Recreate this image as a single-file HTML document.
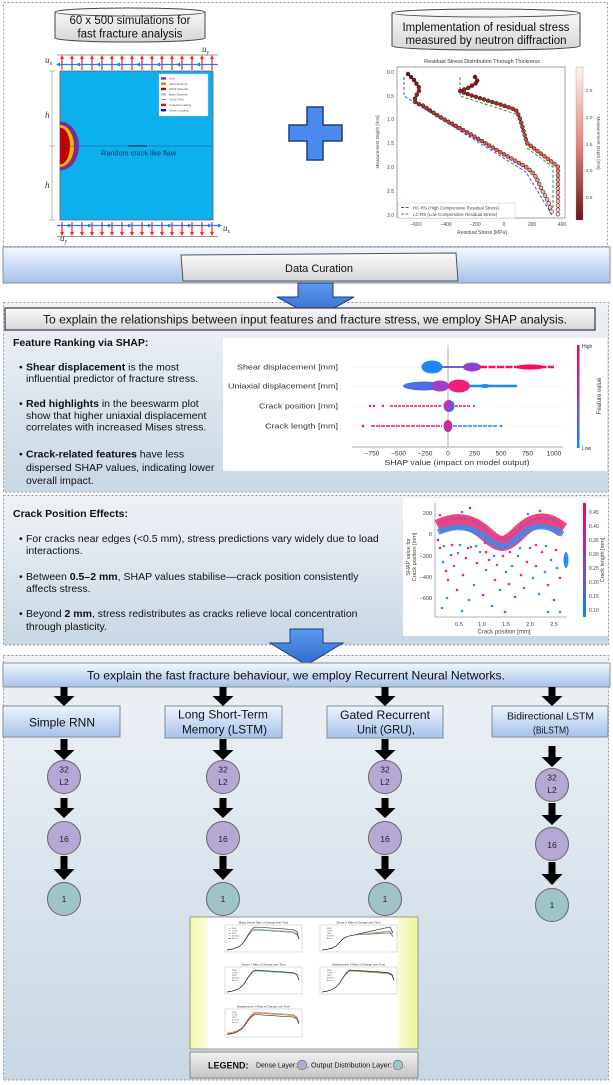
<!DOCTYPE html>
<html><head><meta charset="utf-8">
<style>
html,body{margin:0;padding:0;background:#fff;width:613px;height:1085px;overflow:hidden;}
svg{display:block;font-family:"Liberation Sans",Arial,sans-serif;}
</style></head><body>
<svg width="613" height="1085" viewBox="0 0 613 1085" xmlns="http://www.w3.org/2000/svg">
<defs>
 <linearGradient id="secbg" x1="0" y1="0" x2="0" y2="1"><stop offset="0" stop-color="#eef2f6"/><stop offset="1" stop-color="#c9d7e4"/></linearGradient>
 <linearGradient id="band" x1="0" y1="0" x2="0" y2="1"><stop offset="0" stop-color="#f4f8fd"/><stop offset="1" stop-color="#a5c2ec"/></linearGradient>
 <linearGradient id="gray" x1="0" y1="0" x2="0" y2="1"><stop offset="0" stop-color="#fbfbfb"/><stop offset="1" stop-color="#d6d6d6"/></linearGradient>
 <linearGradient id="gray2" x1="0" y1="0" x2="0" y2="1"><stop offset="0" stop-color="#f2f2f2"/><stop offset="1" stop-color="#c4c4c4"/></linearGradient>
 <linearGradient id="btn" x1="0" y1="0" x2="0" y2="1"><stop offset="0" stop-color="#eef4fc"/><stop offset="1" stop-color="#a6c2ea"/></linearGradient>
 <linearGradient id="barr" x1="0" y1="0" x2="0" y2="1"><stop offset="0" stop-color="#5c98ec"/><stop offset="1" stop-color="#2e6ccc"/></linearGradient>
 <linearGradient id="shapcb" x1="0" y1="0" x2="0" y2="1"><stop offset="0" stop-color="#ff0052"/><stop offset="0.5" stop-color="#8a3ed8"/><stop offset="1" stop-color="#008bfb"/></linearGradient>
 <linearGradient id="rscb" x1="0" y1="0" x2="0" y2="1"><stop offset="0" stop-color="#fcf4f2"/><stop offset="0.5" stop-color="#e7877a"/><stop offset="1" stop-color="#6d1414"/></linearGradient>
 <linearGradient id="dots" gradientUnits="userSpaceOnUse" x1="0" y1="72" x2="0" y2="215"><stop offset="0" stop-color="#701212"/><stop offset="0.55" stop-color="#d46254"/><stop offset="1" stop-color="#f5dcd5"/></linearGradient>
 <linearGradient id="yel" x1="0" y1="0" x2="1" y2="0"><stop offset="0" stop-color="#eff5a8"/><stop offset="0.078" stop-color="#fafce4"/><stop offset="0.08" stop-color="#ffffff"/><stop offset="0.91" stop-color="#ffffff"/><stop offset="0.915" stop-color="#f8fbd6"/><stop offset="1" stop-color="#eef598"/></linearGradient>
 <clipPath id="semi"><rect x="60" y="100" width="40" height="100"/></clipPath>
</defs>

<!-- ============ SECTION 1 ============ -->
<rect x="3.5" y="2.5" width="604" height="244" fill="#fff" stroke="#8c99a6" stroke-width="1" stroke-dasharray="2 2"/>

<!-- cylinder 1 -->
<path d="M55,12 A75,4 0 0 1 205,12 L205,38 A75,4 0 0 1 55,38 Z" fill="url(#gray)" stroke="#444" stroke-width="1"/>
<path d="M55,12 A75,4 0 0 0 205,12" fill="none" stroke="#444" stroke-width="0.8"/>
<text x="130" y="24" font-size="11.5" text-anchor="middle" fill="#111" textLength="121" lengthAdjust="spacingAndGlyphs">60 x 500 simulations for</text>
<text x="130" y="37.5" font-size="11.5" text-anchor="middle" fill="#111" textLength="105" lengthAdjust="spacingAndGlyphs">fast fracture analysis</text>

<!-- cylinder 2 -->
<path d="M392,13 A94,4 0 0 1 580,13 L580,46 A94,4 0 0 1 392,46 Z" fill="url(#gray)" stroke="#444" stroke-width="1"/>
<path d="M392,13 A94,4 0 0 0 580,13" fill="none" stroke="#444" stroke-width="0.8"/>
<text x="486" y="30.8" font-size="11.5" text-anchor="middle" fill="#111" textLength="167" lengthAdjust="spacingAndGlyphs">Implementation of residual stress</text>
<text x="486" y="44" font-size="11.5" text-anchor="middle" fill="#111" textLength="161" lengthAdjust="spacingAndGlyphs">measured by neutron diffraction</text>

<!-- simulation image -->
<line x1="57" y1="55" x2="218" y2="55" stroke="#999" stroke-width="1"/>
<line x1="57" y1="236.5" x2="218" y2="236.5" stroke="#999" stroke-width="1"/>
<g stroke="#ff2020" stroke-width="1.2">
 <line x1="62" y1="70" x2="62" y2="58"/><line x1="72" y1="70" x2="72" y2="58"/><line x1="82" y1="70" x2="82" y2="58"/><line x1="92" y1="70" x2="92" y2="58"/><line x1="102" y1="70" x2="102" y2="58"/><line x1="112" y1="70" x2="112" y2="58"/><line x1="122" y1="70" x2="122" y2="58"/><line x1="132" y1="70" x2="132" y2="58"/><line x1="142" y1="70" x2="142" y2="58"/><line x1="152" y1="70" x2="152" y2="58"/><line x1="162" y1="70" x2="162" y2="58"/><line x1="172" y1="70" x2="172" y2="58"/><line x1="182" y1="70" x2="182" y2="58"/><line x1="192" y1="70" x2="192" y2="58"/><line x1="202" y1="70" x2="202" y2="58"/><line x1="212" y1="70" x2="212" y2="58"/>
 <line x1="62" y1="222" x2="62" y2="233"/><line x1="72" y1="222" x2="72" y2="233"/><line x1="82" y1="222" x2="82" y2="233"/><line x1="92" y1="222" x2="92" y2="233"/><line x1="102" y1="222" x2="102" y2="233"/><line x1="112" y1="222" x2="112" y2="233"/><line x1="122" y1="222" x2="122" y2="233"/><line x1="132" y1="222" x2="132" y2="233"/><line x1="142" y1="222" x2="142" y2="233"/><line x1="152" y1="222" x2="152" y2="233"/><line x1="162" y1="222" x2="162" y2="233"/><line x1="172" y1="222" x2="172" y2="233"/><line x1="182" y1="222" x2="182" y2="233"/><line x1="192" y1="222" x2="192" y2="233"/><line x1="202" y1="222" x2="202" y2="233"/><line x1="212" y1="222" x2="212" y2="233"/>
</g>
<g fill="#ff2020">
 <path d="M60,59 h4 l-2,-4 z M70,59 h4 l-2,-4 z M80,59 h4 l-2,-4 z M90,59 h4 l-2,-4 z M100,59 h4 l-2,-4 z M110,59 h4 l-2,-4 z M120,59 h4 l-2,-4 z M130,59 h4 l-2,-4 z M140,59 h4 l-2,-4 z M150,59 h4 l-2,-4 z M160,59 h4 l-2,-4 z M170,59 h4 l-2,-4 z M180,59 h4 l-2,-4 z M190,59 h4 l-2,-4 z M200,59 h4 l-2,-4 z M210,59 h4 l-2,-4 z"/>
 <path d="M60,232 h4 l-2,4 z M70,232 h4 l-2,4 z M80,232 h4 l-2,4 z M90,232 h4 l-2,4 z M100,232 h4 l-2,4 z M110,232 h4 l-2,4 z M120,232 h4 l-2,4 z M130,232 h4 l-2,4 z M140,232 h4 l-2,4 z M150,232 h4 l-2,4 z M160,232 h4 l-2,4 z M170,232 h4 l-2,4 z M180,232 h4 l-2,4 z M190,232 h4 l-2,4 z M200,232 h4 l-2,4 z M210,232 h4 l-2,4 z"/>
</g>
<line x1="57" y1="64.5" x2="218" y2="64.5" stroke="#2a7ad8" stroke-width="1.2"/>
<line x1="57" y1="225.5" x2="220" y2="225.5" stroke="#2a7ad8" stroke-width="1.2"/>
<g fill="#2a7ad8">
 <path d="M56,64.5 l4,-2 v4 z M76,64.5 l4,-2 v4 z M96,64.5 l4,-2 v4 z M116,64.5 l4,-2 v4 z M136,64.5 l4,-2 v4 z M156,64.5 l4,-2 v4 z M176,64.5 l4,-2 v4 z M196,64.5 l4,-2 v4 z"/>
 <path d="M72,225.5 l-4,-2 v4 z M92,225.5 l-4,-2 v4 z M112,225.5 l-4,-2 v4 z M132,225.5 l-4,-2 v4 z M152,225.5 l-4,-2 v4 z M172,225.5 l-4,-2 v4 z M192,225.5 l-4,-2 v4 z M212,225.5 l-4,-2 v4 z M222,225.5 l-4,-2 v4 z"/>
</g>
<rect x="60" y="71" width="153" height="149" fill="#0cb0ec" stroke="#666" stroke-width="0.8"/>
<g clip-path="url(#semi)">
 <ellipse cx="60" cy="146" rx="19" ry="24.5" fill="#7b2d90"/>
 <ellipse cx="60" cy="146" rx="14" ry="21" fill="#f5b400"/>
 <ellipse cx="60" cy="146" rx="10" ry="18.5" fill="#c00000"/>
</g>
<line x1="60" y1="146" x2="213" y2="146" stroke="#1a5a80" stroke-width="0.5"/>
<line x1="128" y1="146" x2="147" y2="146" stroke="#16344f" stroke-width="1.3"/>
<text x="101" y="155.5" font-size="7" fill="#123a6a" textLength="75" lengthAdjust="spacingAndGlyphs">Random crack like flaw</text>
<!-- inner legend -->
<rect x="159" y="74" width="49" height="42" fill="#fff" stroke="#ccc" stroke-width="0.4"/>
<g font-size="3" fill="#555">
 <rect x="161" y="77.2" width="5" height="2.4" fill="#7b2d90"/><text x="169" y="79.5">HAZ</text>
 <rect x="161" y="82.5" width="5" height="2.4" fill="#e07b00"/><text x="169" y="84.8">Weld Material</text>
 <rect x="161" y="87.8" width="5" height="2.4" fill="#c00000"/><text x="169" y="90.1">HFMI Material</text>
 <rect x="161" y="93.1" width="5" height="2.4" fill="#9ec6e6"/><text x="169" y="95.4">Base Material</text>
 <rect x="161" y="99" width="5" height="0.7" fill="#666"/><text x="169" y="100.7">Crack Path</text>
 <rect x="161" y="103.7" width="5" height="2.4" fill="#ff0000"/><text x="169" y="106">Uniaxial Loading</text>
 <rect x="161" y="109" width="5" height="2.4" fill="#0000ff"/><text x="169" y="111.3">Shear Loading</text>
</g>
<!-- dimension -->
<line x1="52" y1="71" x2="52" y2="220" stroke="#888" stroke-width="0.6"/>
<g stroke="#888" stroke-width="0.6"><line x1="49" y1="71" x2="55" y2="71"/><line x1="49" y1="146" x2="55" y2="146"/><line x1="49" y1="220" x2="55" y2="220"/></g>
<g font-family="Liberation Serif, serif" font-style="italic" fill="#333">
 <text x="45" y="118" font-size="9">h</text>
 <text x="45" y="188" font-size="9">h</text>
 <text x="202" y="52" font-size="9">u<tspan font-size="6" dy="2">y</tspan></text>
 <text x="45" y="63" font-size="9">u<tspan font-size="6" dy="2">x</tspan></text>
 <text x="223" y="231" font-size="9">u<tspan font-size="6" dy="2">x</tspan></text>
 <text x="60" y="241" font-size="9">u<tspan font-size="6" dy="2">y</tspan></text>
</g>

<!-- plus -->
<path d="M307,107 H323 V125 H342 V141 H323 V160 H307 V141 H289 V125 H307 Z" fill="#4a8af0" stroke="#1a3f80" stroke-width="1.5"/>

<!-- residual stress chart -->
<text x="482" y="63" font-size="5.5" text-anchor="middle" fill="#333">Residual Stress Distribution Through Thickness</text>
<rect x="397" y="67" width="168" height="151" fill="#fff" stroke="#666" stroke-width="0.6"/>
<g font-size="5" fill="#444" text-anchor="end">
 <text x="394" y="74">0.0</text><text x="394" y="98">0.5</text><text x="394" y="121">1.0</text><text x="394" y="145">1.5</text><text x="394" y="169">2.0</text><text x="394" y="193">2.5</text><text x="394" y="217">3.0</text>
</g>
<g font-size="5" fill="#444" text-anchor="middle">
 <text x="416" y="226">−600</text><text x="446" y="226">−400</text><text x="475" y="226">−200</text><text x="504" y="226">0</text><text x="532" y="226">200</text><text x="562" y="226">400</text>
 <text x="482" y="234">Residual Stress [MPa]</text>
</g>
<text transform="translate(379 142) rotate(-90)" font-size="4.6" fill="#444" text-anchor="middle">Measurement Depth [mm]</text>
<polyline points="404,77 404,96 526,172 552,215" fill="none" stroke="#3a4cf0" stroke-width="1" stroke-dasharray="3 2"/>
<polyline points="460,77 460,96 519,115 527,148 553,167 553,215" fill="none" stroke="#2aa02a" stroke-width="1" stroke-dasharray="3 2"/>
<g fill="none" stroke-linecap="round" stroke-dasharray="0 4.3">
 <polyline points="408,74 414,80 420,89 416,96 414,101 418,104 422,105 440,117 470,134 500,152 526,167 532,172 536,177 542,190 548,201 552,213" stroke="#4a0c0c" stroke-width="4.4"/>
 <polyline points="408,74 414,80 420,89 416,96 414,101 418,104 422,105 440,117 470,134 500,152 526,167 532,172 536,177 542,190 548,201 552,213" stroke="url(#dots)" stroke-width="3.4"/>
 <polyline points="475,77 478,82 468,88 460,91 470,95 489,101 505,106 516,110 519,116 521,122 527,143 540,153 552,162 558,167 558,215" stroke="#4a0c0c" stroke-width="4.4"/>
 <polyline points="475,77 478,82 468,88 460,91 470,95 489,101 505,106 516,110 519,116 521,122 527,143 540,153 552,162 558,167 558,215" stroke="url(#dots)" stroke-width="3.4"/>
</g>
<rect x="398" y="203" width="117" height="15" fill="#fff" stroke="#ccc" stroke-width="0.5"/>
<line x1="401" y1="207.5" x2="410" y2="207.5" stroke="#3a4cf0" stroke-width="1" stroke-dasharray="3 1.5"/>
<line x1="401" y1="214" x2="410" y2="214" stroke="#2aa02a" stroke-width="1" stroke-dasharray="3 1.5"/>
<text x="413" y="209.3" font-size="4.4" fill="#444">HC-RS (High Compressive Residual Stress)</text>
<text x="413" y="215.8" font-size="4.4" fill="#444">LC-RS (Low Compressive Residual Stress)</text>
<rect x="576" y="67" width="7" height="153" fill="url(#rscb)" stroke="#888" stroke-width="0.3"/>
<g font-size="4.6" fill="#444"><text x="586" y="92">2.5</text><text x="586" y="119">2.0</text><text x="586" y="146">1.5</text><text x="586" y="172">1.0</text><text x="586" y="199">0.5</text></g>
<text transform="translate(597 143) rotate(90)" font-size="4.6" fill="#444" text-anchor="middle">Measurement Depth [mm]</text>

<!-- ============ DATA CURATION ============ -->
<rect x="3" y="247" width="607" height="36" fill="url(#band)" stroke="#8a9099" stroke-width="1"/>
<path d="M181,255 L456,253 L458,281 L183,281 Z" fill="url(#gray)" stroke="#555" stroke-width="1"/>
<text x="319" y="272" font-size="11" text-anchor="middle" fill="#111" textLength="68" lengthAdjust="spacingAndGlyphs">Data Curation</text>

<!-- ============ SHAP SECTION ============ -->
<rect x="3.5" y="302.5" width="605" height="189.5" fill="url(#secbg)" stroke="#8c99a6" stroke-width="1" stroke-dasharray="2 2"/>
<polygon points="298,283 333,283 333,297 354,297 315.5,318 277,297 298,297" fill="url(#barr)" stroke="#1a3f80" stroke-width="1"/>
<rect x="5" y="308" width="590" height="22" fill="url(#gray)" stroke="#444" stroke-width="1.3"/>
<text x="305" y="323.3" font-size="12.2" text-anchor="middle" fill="#111" textLength="524" lengthAdjust="spacingAndGlyphs">To explain the relationships between input features and fracture stress, we employ SHAP analysis.</text>

<g font-size="10.5" fill="#111">
 <text x="13" y="346" font-weight="bold">Feature Ranking via SHAP:</text>
 <text x="19" y="370.5">•</text><text x="26" y="370.5"><tspan font-weight="bold">Shear displacement</tspan> is the most</text>
 <text x="26" y="382">influential predictor of fracture stress.</text>
 <text x="19" y="407">•</text><text x="26" y="407"><tspan font-weight="bold">Red highlights</tspan> in the beeswarm plot</text>
 <text x="26" y="419">show that higher uniaxial displacement</text>
 <text x="26" y="430.5">correlates with increased Mises stress.</text>
 <text x="19" y="457.5">•</text><text x="26" y="457.5"><tspan font-weight="bold">Crack-related features</tspan> have less</text>
 <text x="26" y="471">dispersed SHAP values, indicating lower</text>
 <text x="26" y="484">overall impact.</text>
</g>

<!-- beeswarm -->
<rect x="223" y="338" width="384" height="133" fill="#fff"/>
<g stroke="#eee" stroke-width="0.5"><line x1="352" y1="367" x2="563" y2="367"/><line x1="352" y1="386" x2="563" y2="386"/><line x1="352" y1="406" x2="563" y2="406"/><line x1="352" y1="426" x2="563" y2="426"/></g>
<line x1="448" y1="345" x2="448" y2="447" stroke="#999" stroke-width="0.8"/>
<g font-size="7.4" fill="#333" text-anchor="end">
 <text x="338" y="369.5" textLength="101" lengthAdjust="spacingAndGlyphs">Shear displacement [mm]</text>
 <text x="338" y="388.5" textLength="110" lengthAdjust="spacingAndGlyphs">Uniaxial displacement [mm]</text>
 <text x="338" y="408.5" textLength="79" lengthAdjust="spacingAndGlyphs">Crack position [mm]</text>
 <text x="338" y="428.5" textLength="73" lengthAdjust="spacingAndGlyphs">Crack length [mm]</text>
</g>
<!-- row1 -->
<line x1="442" y1="367" x2="464" y2="367" stroke="#7a5ae0" stroke-width="2"/>
<ellipse cx="432" cy="367" rx="10.5" ry="6.5" fill="#1e88f5"/>
<ellipse cx="472" cy="367" rx="9" ry="4.5" fill="#8c3fd0"/>
<line x1="480" y1="367" x2="554" y2="367" stroke="#ff1060" stroke-width="2.4" stroke-dasharray="7 1.5"/>
<ellipse cx="530" cy="367" rx="14" ry="2.6" fill="#ff0a55"/>
<!-- row2 -->
<ellipse cx="424" cy="386" rx="21" ry="4.5" fill="#4a70ea"/>
<ellipse cx="440" cy="386" rx="9" ry="5.5" fill="#a23fc8"/>
<ellipse cx="459" cy="386" rx="11" ry="6.5" fill="#f0207a"/>
<line x1="469" y1="386" x2="517" y2="386" stroke="#1e88f5" stroke-width="2.4"/>
<ellipse cx="485" cy="386" rx="5" ry="2" fill="#1e88f5"/>
<!-- row3 -->
<g fill="#ff1060"><circle cx="370" cy="406" r="1.2"/><circle cx="374" cy="406" r="1.2"/><circle cx="383" cy="406" r="1.2"/></g>
<line x1="390" y1="406" x2="441" y2="406" stroke="#ff1060" stroke-width="1.6" stroke-dasharray="3 1"/>
<ellipse cx="449" cy="406" rx="5.5" ry="6" fill="#5a5af0"/>
<ellipse cx="447" cy="405" rx="3" ry="4" fill="#e02890"/>
<line x1="455" y1="406" x2="470" y2="406" stroke="#ff1060" stroke-width="1.6" stroke-dasharray="3 1"/>
<circle cx="474" cy="406" r="1.2" fill="#1e88f5"/>
<!-- row4 -->
<circle cx="363" cy="426" r="1.3" fill="#ff1060"/>
<line x1="371" y1="426" x2="442" y2="426" stroke="#ff1060" stroke-width="1.6" stroke-dasharray="4 1"/>
<ellipse cx="448" cy="426" rx="4.5" ry="6" fill="#c0309a"/>
<line x1="453" y1="426" x2="497" y2="426" stroke="#1e88f5" stroke-width="1.6" stroke-dasharray="4 1"/>
<circle cx="501" cy="426" r="1.3" fill="#1e88f5"/>
<line x1="352" y1="447" x2="563" y2="447" stroke="#555" stroke-width="0.6"/>
<g font-size="6.6" fill="#333" text-anchor="middle">
 <text x="372" y="455.5">−750</text><text x="398.5" y="455.5">−500</text><text x="425" y="455.5">−250</text><text x="448" y="455.5">0</text><text x="474.5" y="455.5">250</text><text x="501" y="455.5">500</text><text x="527.5" y="455.5">750</text><text x="554" y="455.5">1000</text>
 <text x="457" y="465" font-size="7.4" textLength="145" lengthAdjust="spacingAndGlyphs">SHAP value (impact on model output)</text>
</g>
<rect x="577" y="345" width="2.5" height="103" fill="url(#shapcb)"/>
<text x="582" y="348" font-size="5" fill="#333">High</text>
<text x="582" y="450" font-size="5" fill="#333">Low</text>
<text transform="translate(601 396) rotate(-90)" font-size="6" fill="#333" text-anchor="middle">Feature value</text>

<!-- ============ CRACK POSITION SECTION ============ -->
<rect x="3.5" y="495.5" width="605" height="149.5" fill="url(#secbg)" stroke="#8c99a6" stroke-width="1" stroke-dasharray="2 2"/>
<g font-size="10.5" fill="#111">
 <text x="13" y="517" font-weight="bold">Crack Position Effects:</text>
 <text x="19" y="542">•</text><text x="26" y="542">For cracks near edges (&lt;0.5 mm), stress predictions vary widely due to load</text>
 <text x="26" y="554">interactions.</text>
 <text x="19" y="580">•</text><text x="26" y="580">Between <tspan font-weight="bold">0.5–2 mm</tspan>, SHAP values stabilise—crack position consistently</text>
 <text x="26" y="592">affects stress.</text>
 <text x="19" y="617">•</text><text x="26" y="617">Beyond <tspan font-weight="bold">2 mm</tspan>, stress redistributes as cracks relieve local concentration</text>
 <text x="26" y="630">through plasticity.</text>
</g>
<rect x="403" y="498" width="205" height="138" fill="#fff"/>
<line x1="435" y1="503" x2="435" y2="617" stroke="#666" stroke-width="0.5"/>
<line x1="435" y1="617" x2="567" y2="617" stroke="#666" stroke-width="0.5"/>
<path d="M438,527 C450,521 462,519 475,526 C488,533 495,546 505,543 C515,540 522,526 535,522 C548,518 555,525 563,530" fill="none" stroke="#f0306a" stroke-width="15" opacity="0.9"/>
<path d="M438,532 C450,527 462,525 475,531 C488,537 495,548 505,546 C515,544 522,530 535,527 C548,525 555,530 563,534" fill="none" stroke="#3a8cf0" stroke-width="6" opacity="0.85"/>
<path d="M438,523 C450,518 462,516 475,522 C488,529 495,541 505,539 C515,537 522,523 535,519 C548,515 555,521 563,527" fill="none" stroke="#a04ad6" stroke-width="2" opacity="0.6"/>
<ellipse cx="566" cy="560" rx="2.5" ry="8" fill="#2a8cff"/>
<g>
 <circle cx="440" cy="548" r="1.3" fill="#ff1f6b"/><circle cx="443" cy="562" r="1.3" fill="#2a8cff"/><circle cx="446" cy="571" r="1.3" fill="#ff1f6b"/><circle cx="448" cy="580" r="1.3" fill="#ff1f6b"/><circle cx="451" cy="555" r="1.3" fill="#9a4ad6"/><circle cx="454" cy="566" r="1.3" fill="#2a8cff"/><circle cx="457" cy="590" r="1.3" fill="#ff1f6b"/><circle cx="460" cy="545" r="1.3" fill="#2a8cff"/><circle cx="463" cy="575" r="1.3" fill="#ff1f6b"/><circle cx="466" cy="558" r="1.3" fill="#ff1f6b"/><circle cx="469" cy="600" r="1.3" fill="#2a8cff"/><circle cx="471" cy="547" r="1.3" fill="#9a4ad6"/><circle cx="474" cy="585" r="1.3" fill="#2a8cff"/><circle cx="477" cy="563" r="1.3" fill="#ff1f6b"/><circle cx="480" cy="552" r="1.3" fill="#2a8cff"/><circle cx="483" cy="595" r="1.3" fill="#ff1f6b"/><circle cx="486" cy="570" r="1.3" fill="#2a8cff"/><circle cx="489" cy="560" r="1.3" fill="#ff1f6b"/><circle cx="492" cy="606" r="1.3" fill="#2a8cff"/><circle cx="495" cy="580" r="1.3" fill="#ff1f6b"/><circle cx="497" cy="565" r="1.3" fill="#9a4ad6"/><circle cx="500" cy="590" r="1.3" fill="#2a8cff"/><circle cx="503" cy="556" r="1.3" fill="#ff1f6b"/><circle cx="506" cy="572" r="1.3" fill="#2a8cff"/><circle cx="509" cy="584" r="1.3" fill="#ff1f6b"/><circle cx="512" cy="566" r="1.3" fill="#2a8cff"/><circle cx="515" cy="597" r="1.3" fill="#ff1f6b"/><circle cx="518" cy="556" r="1.3" fill="#2a8cff"/><circle cx="521" cy="575" r="1.3" fill="#ff1f6b"/><circle cx="524" cy="588" r="1.3" fill="#2a8cff"/><circle cx="527" cy="562" r="1.3" fill="#ff1f6b"/><circle cx="530" cy="548" r="1.3" fill="#9a4ad6"/><circle cx="533" cy="578" r="1.3" fill="#2a8cff"/><circle cx="536" cy="566" r="1.3" fill="#ff1f6b"/><circle cx="539" cy="594" r="1.3" fill="#2a8cff"/><circle cx="542" cy="552" r="1.3" fill="#ff1f6b"/><circle cx="545" cy="572" r="1.3" fill="#2a8cff"/><circle cx="548" cy="585" r="1.3" fill="#ff1f6b"/><circle cx="551" cy="560" r="1.3" fill="#2a8cff"/><circle cx="554" cy="600" r="1.3" fill="#ff1f6b"/><circle cx="557" cy="568" r="1.3" fill="#2a8cff"/><circle cx="560" cy="578" r="1.3" fill="#ff1f6b"/><circle cx="447" cy="598" r="1.3" fill="#2a8cff"/><circle cx="442" cy="608" r="1.3" fill="#2a8cff"/><circle cx="462" cy="611" r="1.3" fill="#2a8cff"/><circle cx="505" cy="612" r="1.3" fill="#ff1f6b"/><circle cx="548" cy="612" r="1.3" fill="#2a8cff"/><circle cx="560" cy="612" r="1.3" fill="#2a8cff"/><circle cx="438" cy="540" r="1.3" fill="#ff1f6b"/><circle cx="444" cy="546" r="1.3" fill="#2a8cff"/><circle cx="452" cy="545" r="1.3" fill="#ff1f6b"/><circle cx="458" cy="553" r="1.3" fill="#2a8cff"/><circle cx="468" cy="548" r="1.3" fill="#ff1f6b"/><circle cx="476" cy="546" r="1.3" fill="#2a8cff"/><circle cx="486" cy="552" r="1.3" fill="#ff1f6b"/><circle cx="494" cy="556" r="1.3" fill="#2a8cff"/><circle cx="510" cy="552" r="1.3" fill="#ff1f6b"/><circle cx="520" cy="548" r="1.3" fill="#2a8cff"/><circle cx="536" cy="545" r="1.3" fill="#ff1f6b"/><circle cx="546" cy="546" r="1.3" fill="#2a8cff"/><circle cx="556" cy="550" r="1.3" fill="#ff1f6b"/><circle cx="485" cy="543" r="1.3" fill="#9a4ad6"/><circle cx="440" cy="515" r="1.3" fill="#ff1f6b"/><circle cx="462" cy="512" r="1.3" fill="#9a4ad6"/><circle cx="470" cy="508" r="1.3" fill="#ff1f6b"/><circle cx="540" cy="511" r="1.3" fill="#ff1f6b"/><circle cx="528" cy="514" r="1.3" fill="#2a8cff"/>
</g>
<g font-size="5.5" fill="#444" text-anchor="end">
 <text x="432" y="515">200</text><text x="432" y="536">0</text><text x="432" y="558">−200</text><text x="432" y="579">−400</text><text x="432" y="600">−600</text>
</g>
<g font-size="5.5" fill="#444" text-anchor="middle">
 <text x="459" y="626">0.5</text><text x="482" y="626">1.0</text><text x="506" y="626">1.5</text><text x="530" y="626">2.0</text><text x="554" y="626">2.5</text>
 <text x="504" y="633.5" font-size="6">Crack position [mm]</text>
</g>
<text transform="translate(410 557) rotate(-90)" font-size="5.5" fill="#444" text-anchor="middle">SHAP value for</text>
<text transform="translate(416 557) rotate(-90)" font-size="5.5" fill="#444" text-anchor="middle">Crack position [mm]</text>
<rect x="583" y="503" width="3" height="114" fill="url(#shapcb)"/>
<g font-size="5" fill="#444">
 <text x="589" y="514">0.45</text><text x="589" y="528">0.40</text><text x="589" y="542">0.35</text><text x="589" y="556">0.30</text><text x="589" y="570">0.25</text><text x="589" y="584">0.20</text><text x="589" y="598">0.15</text><text x="589" y="612">0.10</text>
</g>
<text transform="translate(604 560) rotate(-90)" font-size="5.5" fill="#444" text-anchor="middle">Crack length [mm]</text>

<!-- ============ RNN SECTION ============ -->
<rect x="3.5" y="655.5" width="605" height="424.5" fill="url(#secbg)" stroke="#8c99a6" stroke-width="1" stroke-dasharray="2 2"/>
<polygon points="290,629 323,629 323,643 343,643 306.5,665 270,643 290,643" fill="url(#barr)" stroke="#1a3f80" stroke-width="1"/>
<rect x="3" y="663" width="607" height="24" fill="url(#band)" stroke="#8a9099" stroke-width="1"/>
<text x="296" y="679.3" font-size="12" text-anchor="middle" fill="#111" textLength="418" lengthAdjust="spacingAndGlyphs">To explain the fast fracture behaviour, we employ Recurrent Neural Networks.</text>

<!-- boxes -->
<rect x="3" y="706" width="117" height="31" fill="url(#btn)" stroke="#7f8c99" stroke-width="1"/>
<rect x="165" y="706" width="117" height="32" fill="url(#btn)" stroke="#7f8c99" stroke-width="1"/>
<rect x="327" y="706" width="116" height="32" fill="url(#btn)" stroke="#7f8c99" stroke-width="1"/>
<rect x="492" y="706" width="116" height="31" fill="url(#btn)" stroke="#7f8c99" stroke-width="1"/>
<g fill="#111" text-anchor="middle">
 <text x="62" y="726.3" font-size="12" textLength="66" lengthAdjust="spacingAndGlyphs">Simple RNN</text>
 <text x="223" y="718.3" font-size="12" textLength="90" lengthAdjust="spacingAndGlyphs">Long Short-Term</text>
 <text x="224.5" y="733.3" font-size="12" textLength="85" lengthAdjust="spacingAndGlyphs">Memory (LSTM)</text>
 <text x="385" y="719" font-size="12" textLength="90" lengthAdjust="spacingAndGlyphs">Gated Recurrent</text>
 <text x="386" y="733.3" font-size="12" textLength="58" lengthAdjust="spacingAndGlyphs">Unit (GRU),</text>
 <text x="550.5" y="719.7" font-size="10.4" textLength="87" lengthAdjust="spacingAndGlyphs">Bidirectional LSTM</text>
 <text x="551" y="733.7" font-size="10.4" textLength="36" lengthAdjust="spacingAndGlyphs">(BiLSTM)</text>
</g>

<!-- columns 1-3 -->
<g id="col1" transform="translate(64 0)">
 <polygon points="-3.5,687 3.5,687 3.5,696 10.5,696 0,706 -10.5,696 -3.5,696" fill="#000"/>
 <polygon points="-3.5,739 3.5,739 3.5,750 10.5,750 0,760 -10.5,750 -3.5,750" fill="#000"/>
 <polygon points="-3.5,798 3.5,798 3.5,808 10.5,808 0,818 -10.5,808 -3.5,808" fill="#000"/>
 <polygon points="-3.5,856 3.5,856 3.5,869 10.5,869 0,880 -10.5,869 -3.5,869" fill="#000"/>
 <circle cx="0" cy="777" r="16.5" fill="#b5a8d5" stroke="#666" stroke-width="1"/>
 <circle cx="0" cy="838" r="16.5" fill="#b5a8d5" stroke="#666" stroke-width="1"/>
 <circle cx="0" cy="899" r="16.5" fill="#9ec4c8" stroke="#666" stroke-width="1"/>
 <g font-size="8.5" fill="#222" text-anchor="middle"><text x="0" y="772.5">32</text><text x="0" y="785">L2</text><text x="0" y="842">16</text><text x="0" y="902">1</text></g>
</g>
<g transform="translate(223 0)">
 <polygon points="-3.5,687 3.5,687 3.5,696 10.5,696 0,706 -10.5,696 -3.5,696" fill="#000"/>
 <polygon points="-3.5,739 3.5,739 3.5,750 10.5,750 0,760 -10.5,750 -3.5,750" fill="#000"/>
 <polygon points="-3.5,798 3.5,798 3.5,808 10.5,808 0,818 -10.5,808 -3.5,808" fill="#000"/>
 <polygon points="-3.5,856 3.5,856 3.5,869 10.5,869 0,880 -10.5,869 -3.5,869" fill="#000"/>
 <circle cx="0" cy="777" r="16.5" fill="#b5a8d5" stroke="#666" stroke-width="1"/>
 <circle cx="0" cy="838" r="16.5" fill="#b5a8d5" stroke="#666" stroke-width="1"/>
 <circle cx="0" cy="899" r="16.5" fill="#9ec4c8" stroke="#666" stroke-width="1"/>
 <g font-size="8.5" fill="#222" text-anchor="middle"><text x="0" y="772.5">32</text><text x="0" y="785">L2</text><text x="0" y="842">16</text><text x="0" y="902">1</text></g>
</g>
<g transform="translate(385 0)">
 <polygon points="-3.5,687 3.5,687 3.5,696 10.5,696 0,706 -10.5,696 -3.5,696" fill="#000"/>
 <polygon points="-3.5,739 3.5,739 3.5,750 10.5,750 0,760 -10.5,750 -3.5,750" fill="#000"/>
 <polygon points="-3.5,798 3.5,798 3.5,808 10.5,808 0,818 -10.5,808 -3.5,808" fill="#000"/>
 <polygon points="-3.5,856 3.5,856 3.5,869 10.5,869 0,880 -10.5,869 -3.5,869" fill="#000"/>
 <circle cx="0" cy="777" r="16.5" fill="#b5a8d5" stroke="#666" stroke-width="1"/>
 <circle cx="0" cy="838" r="16.5" fill="#b5a8d5" stroke="#666" stroke-width="1"/>
 <circle cx="0" cy="899" r="16.5" fill="#9ec4c8" stroke="#666" stroke-width="1"/>
 <g font-size="8.5" fill="#222" text-anchor="middle"><text x="0" y="772.5">32</text><text x="0" y="785">L2</text><text x="0" y="842">16</text><text x="0" y="902">1</text></g>
</g>
<g transform="translate(552 0)">
 <polygon points="-3.5,687 3.5,687 3.5,696 10.5,696 0,706 -10.5,696 -3.5,696" fill="#000"/>
 <polygon points="-3.5,746 3.5,746 3.5,757 10.5,757 0,767 -10.5,757 -3.5,757" fill="#000"/>
 <polygon points="-3.5,803 3.5,803 3.5,815 10.5,815 0,825 -10.5,815 -3.5,815" fill="#000"/>
 <polygon points="-3.5,862 3.5,862 3.5,874 10.5,874 0,885 -10.5,874 -3.5,874" fill="#000"/>
 <circle cx="0" cy="785" r="16.5" fill="#b5a8d5" stroke="#666" stroke-width="1"/>
 <circle cx="0" cy="844" r="16.5" fill="#b5a8d5" stroke="#666" stroke-width="1"/>
 <circle cx="0" cy="905" r="16.5" fill="#9ec4c8" stroke="#666" stroke-width="1"/>
 <g font-size="8.5" fill="#222" text-anchor="middle"><text x="0" y="780.5">32</text><text x="0" y="793">L2</text><text x="0" y="848">16</text><text x="0" y="908">1</text></g>
</g>

<!-- results image -->
<rect x="190" y="917" width="228" height="132" fill="url(#yel)" stroke="#888" stroke-width="0.8"/>
<!-- chart template rendered 5 times -->
<g transform="translate(225 925)">
 <text x="38.5" y="-1.5" font-size="2.8" fill="#333" text-anchor="middle">Mises Stress Rate of Change over Time</text>
 <rect x="0" y="0" width="77" height="27" fill="#fff" stroke="#aaa" stroke-width="0.4"/>
 <g fill="none" stroke-width="0.6">
  <path d="M2,25 C10,24 15,22 19,17 C23,11 26,6 30,4.5 L68,7 L72,9 L74,14" stroke="#ff7f0e"/>
  <path d="M2,25 C10,24 15,22 19,17 C23,11 26,6 30,5 L68,7.5 L72,10 L74,14" stroke="#2ca02c"/>
  <path d="M2,25 C10,24 15,22 19,17 C23,11 26,6 30,4 L68,6.5 L72,9 L74,14" stroke="#ff6f8f"/>
  <path d="M2,25 C10,24 15,22 19,17 C23,11 26,6 30,4.2 L68,7 L72,9 L74,14" stroke="#6fb8f0"/>
  <path d="M2,25 C10,24 15,22 19,17 C23,10 26,4 30,2 L68,4.5 L72,7 L74,14" stroke="#111"/>
 </g>
 <g font-size="2" fill="#555"><text x="7" y="4">RNN</text><text x="7" y="6.5">LSTM</text><text x="7" y="9">GRU</text><text x="7" y="11.5">BiLSTM</text><text x="7" y="14">Actual</text></g>
 <g stroke-width="0.5"><line x1="3" y1="3.4" x2="6" y2="3.4" stroke="#6fb8f0"/><line x1="3" y1="5.9" x2="6" y2="5.9" stroke="#ff7f0e"/><line x1="3" y1="8.4" x2="6" y2="8.4" stroke="#2ca02c"/><line x1="3" y1="10.9" x2="6" y2="10.9" stroke="#ff6f8f"/><line x1="3" y1="13.4" x2="6" y2="13.4" stroke="#111"/></g>
</g>
<g transform="translate(320 925)">
 <text x="38.5" y="-1.5" font-size="2.8" fill="#333" text-anchor="middle">Stress X Rate of Change over Time</text>
 <rect x="0" y="0" width="77" height="27" fill="#fff" stroke="#aaa" stroke-width="0.4"/>
 <g fill="none" stroke-width="0.6">
  <path d="M2,25 C12,24 16,22 20,17 C24,12 28,11 34,10 C48,9 60,8 70,7 L73,11" stroke="#ff7f0e"/>
  <path d="M2,25 C12,24 16,22 20,17 C24,12 28,11 34,10 C48,9 60,9 70,8 L73,12" stroke="#2ca02c"/>
  <path d="M2,25 C12,24 16,22 20,17 C24,12 28,11 34,10 C48,8 60,7 70,6 L73,10" stroke="#ff6f8f"/>
  <path d="M2,25 C12,24 16,22 20,17 C24,12 28,11 34,10 C48,8.5 60,7.5 70,6.5 L73,11" stroke="#6fb8f0"/>
  <path d="M2,25 C12,24 16,22 20,17 C24,12 28,11 34,10 C48,7 60,4 70,2 L73,8" stroke="#111"/>
 </g>
 <g font-size="2" fill="#555"><text x="7" y="4">RNN</text><text x="7" y="6.5">LSTM</text><text x="7" y="9">GRU</text><text x="7" y="11.5">BiLSTM</text><text x="7" y="14">Actual</text></g>
</g>
<g transform="translate(225 967)">
 <text x="38.5" y="-1.5" font-size="2.8" fill="#333" text-anchor="middle">Stress Y Rate of Change over Time</text>
 <rect x="0" y="0" width="77" height="27" fill="#fff" stroke="#aaa" stroke-width="0.4"/>
 <g fill="none" stroke-width="0.6">
  <path d="M2,25 C10,24 15,22 19,17 C23,11 26,6 30,3.5 L68,6 L72,8 L74,13" stroke="#ff7f0e"/>
  <path d="M2,25 C10,24 15,22 19,17 C23,11 26,6 30,3.8 L68,6.3 L72,8 L74,13" stroke="#2ca02c"/>
  <path d="M2,25 C10,24 15,22 19,17 C23,11 26,6 30,3.3 L68,5.8 L72,8 L74,13" stroke="#ff6f8f"/>
  <path d="M2,25 C10,24 15,22 19,17 C23,11 26,6 30,3.4 L68,6 L72,8 L74,13" stroke="#6fb8f0"/>
  <path d="M2,25 C10,24 15,22 19,17 C23,10 26,5 30,3 L68,5.5 L72,7.5 L74,13" stroke="#111"/>
 </g>
 <g font-size="2" fill="#555"><text x="7" y="4">RNN</text><text x="7" y="6.5">LSTM</text><text x="7" y="9">GRU</text><text x="7" y="11.5">BiLSTM</text><text x="7" y="14">Actual</text></g>
</g>
<g transform="translate(320 967)">
 <text x="38.5" y="-1.5" font-size="2.8" fill="#333" text-anchor="middle">Displacement X Rate of Change over Time</text>
 <rect x="0" y="0" width="77" height="27" fill="#fff" stroke="#aaa" stroke-width="0.4"/>
 <g fill="none" stroke-width="0.6">
  <path d="M2,25 C10,24 15,22 19,17 C23,11 26,6 30,3.5 L68,6 L72,8 L74,13" stroke="#ff7f0e"/>
  <path d="M2,25 C10,24 15,22 19,17 C23,11 26,6 30,3.8 L68,6.6 L72,8.5 L74,13" stroke="#2ca02c"/>
  <path d="M2,25 C10,24 15,22 19,17 C23,11 26,6 30,3.3 L68,5.8 L72,8 L74,13" stroke="#ff6f8f"/>
  <path d="M2,25 C10,24 15,22 19,17 C23,10 26,5 30,3 L68,5.5 L72,7.5 L74,13" stroke="#111"/>
 </g>
 <g font-size="2" fill="#555"><text x="7" y="4">RNN</text><text x="7" y="6.5">LSTM</text><text x="7" y="9">GRU</text><text x="7" y="11.5">BiLSTM</text><text x="7" y="14">Actual</text></g>
</g>
<g transform="translate(225 1009)">
 <text x="38.5" y="-1.5" font-size="2.8" fill="#333" text-anchor="middle">Displacement Y Rate of Change over Time</text>
 <rect x="0" y="0" width="77" height="28" fill="#fff" stroke="#aaa" stroke-width="0.4"/>
 <g fill="none" stroke-width="0.6">
  <path d="M2,24 C10,23 15,21 19,16 C23,10 26,5 30,3 L68,5.5 L72,8 L74,13" stroke="#ff7f0e"/>
  <path d="M2,25 C10,24 15,22 19,17 C23,11 26,6 30,4 L68,6.5 L72,9 L74,14" stroke="#2ca02c"/>
  <path d="M2,24.5 C10,23.5 15,21.5 19,16.5 C23,10.5 26,5.5 30,3.5 L68,6 L72,8.5 L74,13.5" stroke="#ff6f8f"/>
  <path d="M2,25.5 C10,24.5 15,22.5 19,17.5 C23,11.5 26,7 30,5.5 L68,8 L72,10 L74,15" stroke="#111"/>
 </g>
 <g font-size="2" fill="#555"><text x="7" y="4">RNN</text><text x="7" y="6.5">LSTM</text><text x="7" y="9">GRU</text><text x="7" y="11.5">BiLSTM</text><text x="7" y="14">Actual</text></g>
</g>

<!-- legend -->
<rect x="190" y="1052" width="228" height="26" fill="url(#gray2)" stroke="#777" stroke-width="0.8"/>
<text x="208" y="1068.4" font-size="9" font-weight="bold" fill="#111" textLength="40.5" lengthAdjust="spacingAndGlyphs">LEGEND:</text>
<text x="256" y="1067.6" font-size="7" fill="#111" textLength="41" lengthAdjust="spacingAndGlyphs">Dense Layer:</text>
<circle cx="302" cy="1065" r="4.8" fill="#b5a8d5" stroke="#666" stroke-width="0.6"/>
<text x="307" y="1067.6" font-size="7" fill="#111" textLength="85" lengthAdjust="spacingAndGlyphs">, Output Distribution Layer:</text>
<circle cx="398" cy="1065" r="4.8" fill="#9ec4c8" stroke="#666" stroke-width="0.6"/>
<text x="403.5" y="1067.6" font-size="7" fill="#111">.</text>
</svg>
</body></html>
